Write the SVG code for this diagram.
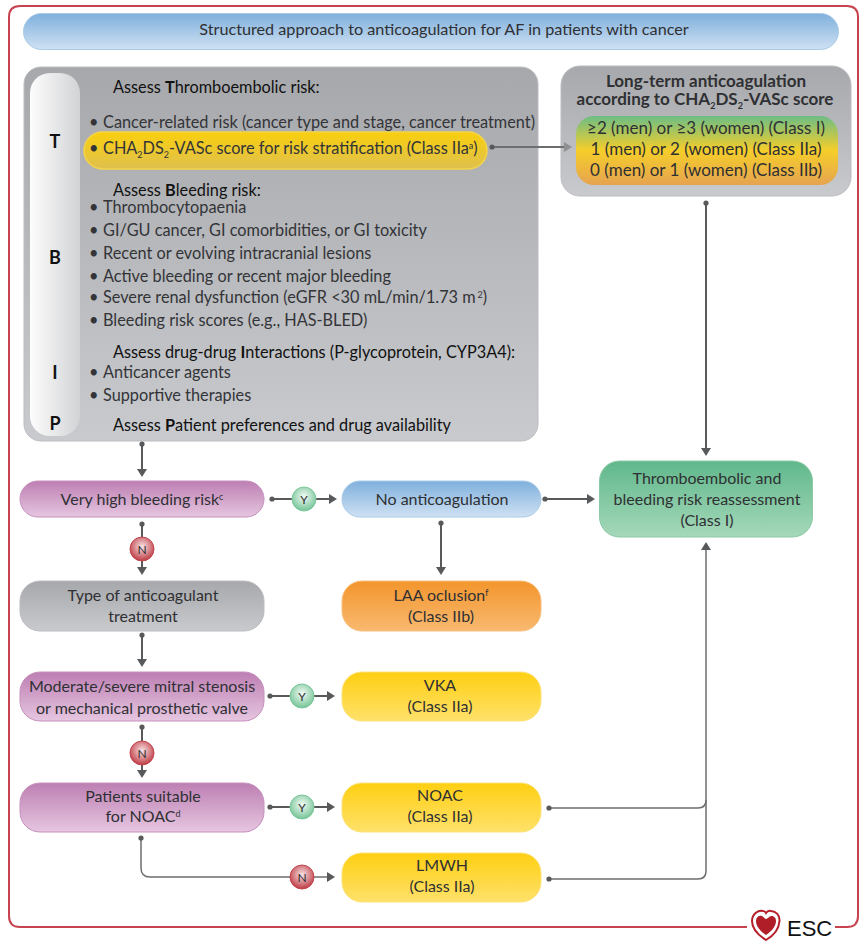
<svg xmlns="http://www.w3.org/2000/svg" width="865" height="945" viewBox="0 0 865 945">
<style>
text{font-family:"Lato","Noto Sans","Liberation Sans",sans-serif;font-size:16px;fill:#2f3033}
.c{text-anchor:middle}
.t{font-size:16.2px}
.h{fill:#111;font-size:16.3px}
.b{font-weight:700}
.l{fill:#111;font-weight:700;font-size:18px;text-anchor:middle}
.f{fill:#333438;font-size:16.3px}
.s{font-size:9px}
.yn{font-size:12px;text-anchor:middle}
.cn{fill:none;stroke:#58595b;stroke-width:2;marker-start:url(#dot);marker-end:url(#arr)}
.cn2{fill:none;stroke:#6d6e70;stroke-width:1.5}
.hd{font-weight:700;font-size:17px;text-anchor:middle}
.sc{font-size:17px;text-anchor:middle}
</style>
<defs>
<marker id="dot" markerUnits="userSpaceOnUse" markerWidth="8" markerHeight="8" refX="4" refY="4"><circle cx="4" cy="4" r="2.6" fill="#58595b"/></marker>
<marker id="arr" markerUnits="userSpaceOnUse" markerWidth="10" markerHeight="10" refX="2" refY="5" orient="auto"><path d="M0 0L8 5L0 10Z" fill="#58595b"/></marker>
<marker id="arrg" markerUnits="userSpaceOnUse" markerWidth="10" markerHeight="10" refX="2" refY="5" orient="auto"><path d="M0 0L8 5L0 10Z" fill="#8f9092"/></marker>
<linearGradient id="gBlue" x1="0" y1="0" x2="0" y2="1"><stop offset="0" stop-color="#7fb0dc"/><stop offset="1" stop-color="#cfe1f3"/></linearGradient>
<linearGradient id="gGrey" x1="0" y1="0" x2="0" y2="1"><stop offset="0" stop-color="#a7a8ab"/><stop offset="1" stop-color="#c8cacd"/></linearGradient>
<linearGradient id="gStrip" x1="0" y1="0" x2="1" y2="0"><stop offset="0" stop-color="#fdfdfd"/><stop offset="1" stop-color="#d2d3d5"/></linearGradient>
<linearGradient id="gPill" x1="0" y1="0" x2="0" y2="1"><stop offset="0" stop-color="#f9cf0e"/><stop offset="1" stop-color="#dfc04e"/></linearGradient>
<linearGradient id="gScore" x1="0" y1="0" x2="0" y2="1"><stop offset="0" stop-color="#6dbd85"/><stop offset="0.5" stop-color="#f5ce2a"/><stop offset="1" stop-color="#e6a350"/></linearGradient>
<linearGradient id="gPurple" x1="0" y1="0" x2="0" y2="1"><stop offset="0" stop-color="#bd7fb3"/><stop offset="1" stop-color="#e6c6e0"/></linearGradient>
<linearGradient id="gOrange" x1="0" y1="0" x2="0" y2="1"><stop offset="0" stop-color="#f3952c"/><stop offset="1" stop-color="#f8b970"/></linearGradient>
<linearGradient id="gYellow" x1="0" y1="0" x2="0" y2="1"><stop offset="0" stop-color="#fecf12"/><stop offset="1" stop-color="#fee16a"/></linearGradient>
<linearGradient id="gGreen" x1="0" y1="0" x2="0" y2="1"><stop offset="0" stop-color="#60b88b"/><stop offset="1" stop-color="#a5d8ba"/></linearGradient>
<radialGradient id="gY" cx="0.5" cy="0.4" r="0.6"><stop offset="0" stop-color="#f4faf6"/><stop offset="1" stop-color="#74c596"/></radialGradient>
<radialGradient id="gN" cx="0.5" cy="0.4" r="0.6"><stop offset="0" stop-color="#f7e3e3"/><stop offset="1" stop-color="#bf3a44"/></radialGradient>
</defs>

<path d="M747 927H20Q9 927 9 916V17Q9 6 20 6H847Q858 6 858 17V916Q858 927 847 927H835" fill="none" stroke="#c7444f" stroke-width="2"/>

<g id="title"><rect x="23.500" y="13.500" width="815" height="36" rx="18" fill="url(#gBlue)" stroke="#a9cbe8"/><text class="c t" x="444" y="35">Structured approach to anticoagulation for AF in patients with cancer</text></g>

<g id="assessment">
<rect x="24" y="67" width="514" height="374" rx="17" fill="url(#gGrey)" stroke="#bcbdc0"/>
<rect x="30" y="73" width="50" height="363" rx="20" fill="url(#gStrip)"/>
<rect x="84" y="132" width="403" height="37" rx="18.500" fill="url(#gPill)" stroke="#f4d44a" stroke-width="1.500"/>
<text class="l" x="55" y="148">T</text><text class="l" x="55" y="264">B</text><text class="l" x="55" y="379">I</text><text class="l" x="55" y="430">P</text>
<text class="h" x="113" y="93">Assess <tspan class="b">T</tspan>hromboembolic risk:</text>
<g id="bullets">
<text class="f" x="89" y="128">•</text><text class="f" x="103" y="128">Cancer-related risk (cancer type and stage, cancer treatment)</text>
<text class="f" x="89" y="154">•</text><text class="f" x="103" y="154">CHA<tspan class="s" dy="4">2</tspan><tspan dy="-4">DS</tspan><tspan class="s" dy="4">2</tspan><tspan dy="-4">-VASc score for risk stratification (Class IIa</tspan><tspan class="s" dy="-5">a</tspan><tspan dy="5">)</tspan></text>
<text class="h" x="113" y="196">Assess <tspan class="b">B</tspan>leeding risk:</text>
<text class="f" x="89" y="213">•</text><text class="f" x="103" y="213">Thrombocytopaenia</text>
<text class="f" x="89" y="236">•</text><text class="f" x="103" y="236">GI/GU cancer, GI comorbidities, or GI toxicity</text>
<text class="f" x="89" y="259">•</text><text class="f" x="103" y="259">Recent or evolving intracranial lesions</text>
<text class="f" x="89" y="282">•</text><text class="f" x="103" y="282">Active bleeding or recent major bleeding</text>
<text class="f" x="89" y="303">•</text><text class="f" x="103" y="303">Severe renal dysfunction (eGFR &lt;30 mL/min/1.73 m<tspan class="s" dx="2" dy="-5">2</tspan><tspan dy="5">)</tspan></text>
<text class="f" x="89" y="326">•</text><text class="f" x="103" y="326">Bleeding risk scores (e.g., HAS-BLED)</text>
<text class="h" x="113" y="358">Assess drug-drug <tspan class="b">I</tspan>nteractions (P-glycoprotein, CYP3A4):</text>
<text class="f" x="89" y="378">•</text><text class="f" x="103" y="378">Anticancer agents</text>
<text class="f" x="89" y="401">•</text><text class="f" x="103" y="401">Supportive therapies</text>
<text class="h" x="113" y="431">Assess <tspan class="b">P</tspan>atient preferences and drug availability</text>
</g>
</g>

<g id="longterm">
<rect x="561" y="66" width="290" height="130" rx="19" fill="url(#gGrey)" stroke="#bcbdc0"/>
<rect x="576" y="116" width="262" height="69" rx="18" fill="url(#gScore)"/>
<text class="hd" x="706" y="87">Long-term anticoagulation</text>
<text class="hd" x="705" y="105">according to CHA<tspan class="s" dy="4">2</tspan><tspan dy="-4">DS</tspan><tspan class="s" dy="4">2</tspan><tspan dy="-4">-VASc score</tspan></text>
<text class="sc" x="706" y="134">≥2 (men) or ≥3 (women) (Class I)</text>
<text class="sc" x="706" y="155">1 (men) or 2 (women) (Class IIa)</text>
<text class="sc" x="706" y="176">0 (men) or 1 (women) (Class IIb)</text>
</g>

<g id="connectors">
<path class="cn" d="M142 444V471"/>
<path class="cn" d="M272 499H331"/>
<path class="cn" d="M142 524V569"/>
<path class="cn" d="M441 523V569"/>
<path class="cn" d="M545 499H589"/>
<path class="cn" d="M706 203V450"/>
<path d="M492 147H566" fill="none" stroke="#6d6e70" stroke-width="2" marker-start="url(#dot)" marker-end="url(#arrg)"/>
<path class="cn" d="M142 635V661"/>
<path class="cn" d="M270 696H329"/>
<path class="cn" d="M142 727V772"/>
<path class="cn" d="M270 807H329"/>
<path class="cn2" d="M141 838V868Q141 877 150 877H329" marker-start="url(#dot)" marker-end="url(#arr)"/>
<path class="cn2" d="M549 808H698Q706 808 706 800V548" marker-start="url(#dot)" marker-end="url(#arr)"/>
<path class="cn2" d="M549 879H698Q706 879 706 871V800" marker-start="url(#dot)"/>
</g>

<g id="very-high"><rect x="20" y="481" width="244" height="36" rx="18" fill="url(#gPurple)" stroke="#c690bd"/><text class="c" x="142" y="505">Very high bleeding risk<tspan class="s" dy="-5">c</tspan></text></g>
<g id="no-anticoag"><rect x="342" y="481" width="199" height="36" rx="18" fill="url(#gBlue)" stroke="#a9cbe8"/><text class="c" x="442" y="505">No anticoagulation</text></g>
<g id="type"><rect x="20" y="581" width="244" height="50" rx="20" fill="url(#gGrey)" stroke="#bcbdc0"/><text class="c" x="143" y="601">Type of anticoagulant</text><text class="c" x="143" y="622">treatment</text></g>
<g id="laa"><rect x="342" y="581" width="199" height="50" rx="20" fill="url(#gOrange)" stroke="#f8c07e"/><text class="c" x="441" y="601">LAA oclusion<tspan class="s" dy="-5">f</tspan></text><text class="c" x="441" y="622">(Class IIb)</text></g>
<g id="mitral"><rect x="20" y="672" width="244" height="49" rx="20" fill="url(#gPurple)" stroke="#c690bd"/><text class="c" x="142" y="692">Moderate/severe mitral stenosis</text><text class="c" x="142" y="714">or mechanical prosthetic valve</text></g>
<g id="vka"><rect x="342" y="672" width="199" height="49" rx="20" fill="url(#gYellow)" stroke="#fde27a"/><text class="c" x="440" y="691">VKA</text><text class="c" x="440" y="712">(Class IIa)</text></g>
<g id="suitable"><rect x="20" y="783" width="244" height="49" rx="20" fill="url(#gPurple)" stroke="#c690bd"/><text class="c" x="143" y="802">Patients suitable</text><text class="c" x="143" y="822">for NOAC<tspan class="s" dy="-5">d</tspan></text></g>
<g id="noac"><rect x="342" y="783" width="199" height="49" rx="20" fill="url(#gYellow)" stroke="#fde27a"/><text class="c" x="440" y="801">NOAC</text><text class="c" x="440" y="822">(Class IIa)</text></g>
<g id="lmwh"><rect x="342" y="853" width="199" height="49" rx="20" fill="url(#gYellow)" stroke="#fde27a"/><text class="c" x="442" y="871">LMWH</text><text class="c" x="442" y="892">(Class IIa)</text></g>
<g id="reassess"><rect x="599.500" y="461" width="213" height="76" rx="20" fill="url(#gGreen)" stroke="#8ccaa6"/><text class="c" x="707" y="484">Thromboembolic and</text><text class="c" x="707" y="505">bleeding risk reassessment</text><text class="c" x="707" y="526">(Class I)</text></g>

<g id="dec-y1"><circle cx="304" cy="499" r="12" fill="url(#gY)" stroke="#7cc79c"/><text class="yn" x="304" y="503.500">Y</text></g>
<g id="dec-n1"><circle cx="142" cy="549" r="12" fill="url(#gN)" stroke="#c2444e"/><text class="yn" x="142" y="553.500">N</text></g>
<g id="dec-y2"><circle cx="302" cy="696" r="12" fill="url(#gY)" stroke="#7cc79c"/><text class="yn" x="302" y="700.500">Y</text></g>
<g id="dec-n2"><circle cx="142" cy="753" r="12" fill="url(#gN)" stroke="#c2444e"/><text class="yn" x="142" y="757.500">N</text></g>
<g id="dec-y3"><circle cx="302" cy="807" r="12" fill="url(#gY)" stroke="#7cc79c"/><text class="yn" x="302" y="811.500">Y</text></g>
<g id="dec-n3"><circle cx="302" cy="877" r="12" fill="url(#gN)" stroke="#c2444e"/><text class="yn" x="302" y="881.500">N</text></g>

<g id="esc-logo">
<path d="M766 940C758 935 752 928 752 921C752 914 758 910 763 911C764.500 911 765.500 912 766 913C767 911.500 769 910.500 771 911C776 911.500 780 915 779.500 921C779 929 773 936 766 940Z" fill="#fff" stroke="#b5202b" stroke-width="2"/>
<path d="M766 935C760 931 756 926 756 921C756 917 759 915 762 916C764 917 765 919 766 919C767.500 919 769 916.500 771 916C774 915.500 776 918 776 921C776 926 772 931 766 935Z" fill="#b01e28"/>
<text x="787" y="936" style="font-family:'Liberation Sans',sans-serif;font-size:22px;fill:#111">ESC</text>
</g>
</svg>
